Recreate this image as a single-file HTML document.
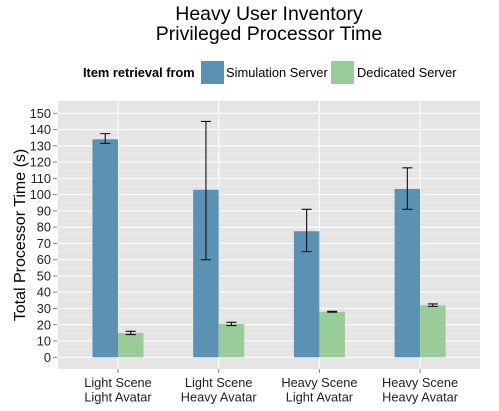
<!DOCTYPE html>
<html><head><meta charset="utf-8"><style>
body{margin:0;background:#fff;}
svg text{font-family:"Liberation Sans",sans-serif;}
</style></head><body>
<svg id="c" width="499" height="406" xmlns="http://www.w3.org/2000/svg">
<text x="269" y="20" font-size="19.5" text-anchor="middle" fill="#000">Heavy User Inventory</text>
<text x="269" y="40" font-size="19.5" text-anchor="middle" fill="#000">Privileged Processor Time</text>
<g>
<text x="83" y="77" font-size="12.8" font-weight="bold">Item retrieval from</text>
<rect x="201" y="61" width="23" height="23" fill="#5b91b3"/>
<text x="226" y="77" font-size="12.9">Simulation Server</text>
<rect x="331" y="61" width="23" height="23" fill="#99cc98"/>
<text x="357" y="77" font-size="12.9">Dedicated Server</text>
</g>
<rect x="58" y="101" width="422" height="268" fill="#e5e5e5"/>
<g id="grid"></g><g id="bars"></g><g id="axes"></g>
<text transform="translate(25,235) rotate(-90)" font-size="16" text-anchor="middle">Total Processor Time (s)</text>
</svg>
<script>
const categories=[["Light Scene","Light Avatar"],["Light Scene","Heavy Avatar"],["Heavy Scene","Light Avatar"],["Heavy Scene","Heavy Avatar"]];
const simValues=[134,103,77.5,103.5];
const simLow=[131.5,60,65,91];
const simHigh=[137.5,145,91,116.5];
const dedValues=[15,20.5,28,32];
const dedLow=[14,19.5,27.7,31.3];
const dedHigh=[16,21.5,28.3,32.8];
const yTicks=[0,10,20,30,40,50,60,70,80,90,100,110,120,130,140,150];
const NS="http://www.w3.org/2000/svg";
const y=v=>357.3-v*244/150;
const x=i=>118+i*100.7;
function mk(tag,attrs,parent){const e=document.createElementNS(NS,tag);for(const k in attrs)e.setAttribute(k,attrs[k]);document.getElementById(parent).appendChild(e);return e;}
for(let i=0;i<yTicks.length;i++){
 const t=yTicks[i];
 if(i<yTicks.length-1){const m=mk('line',{x1:58,x2:480,y1:y(t+5),y2:y(t+5),stroke:'#f2f2f2','stroke-width':0.6},'grid');
 
 }
 const g=mk('line',{x1:58,x2:480,y1:y(t),y2:y(t),stroke:'#fff','stroke-width':1.1},'grid');
 
 
 const tk=mk('line',{x1:53,x2:57,y1:y(t),y2:y(t),stroke:'#7f7f7f'},'axes');
 
 
 const l=mk('text',{x:51,y:y(t)+4.5,'font-size':12.8,'text-anchor':'end',fill:'#222'},'axes');
 l.textContent=t;
 
 
}
categories.forEach((c,i)=>{
 const g=mk('line',{x1:x(i),x2:x(i),y1:101,y2:369,stroke:'#fff','stroke-width':1.1},'grid');
 
 
 const tk=mk('line',{x1:x(i),x2:x(i),y1:369,y2:373,stroke:'#7f7f7f'},'axes');
 
 
 c.forEach((s,j)=>{const t=mk('text',{x:x(i),y:387+j*14.5,'font-size':12.8,'text-anchor':'middle',fill:'#222'},'axes');
 t.textContent=s;
 
 });
 [[simValues,simLow,simHigh,'#5b91b3',-25.5,'sim'],[dedValues,dedLow,dedHigh,'#99cc98',0,'ded']].forEach(([v,lo,hi,col,off,nm])=>{
  const b=mk('rect',{x:x(i)+off,y:y(v[i]),width:25.5,height:y(0)-y(v[i]),fill:col},'bars');
  
  
  const cx=x(i)+off+12.75;
  const e=mk('path',{d:`M${cx-5},${y(hi[i])}H${cx+5}M${cx},${y(hi[i])}V${y(lo[i])}M${cx-5},${y(lo[i])}H${cx+5}`,stroke:'#111','stroke-width':1.1,fill:'none'},'bars');
  
  
 });
});
</script>
</body></html>
